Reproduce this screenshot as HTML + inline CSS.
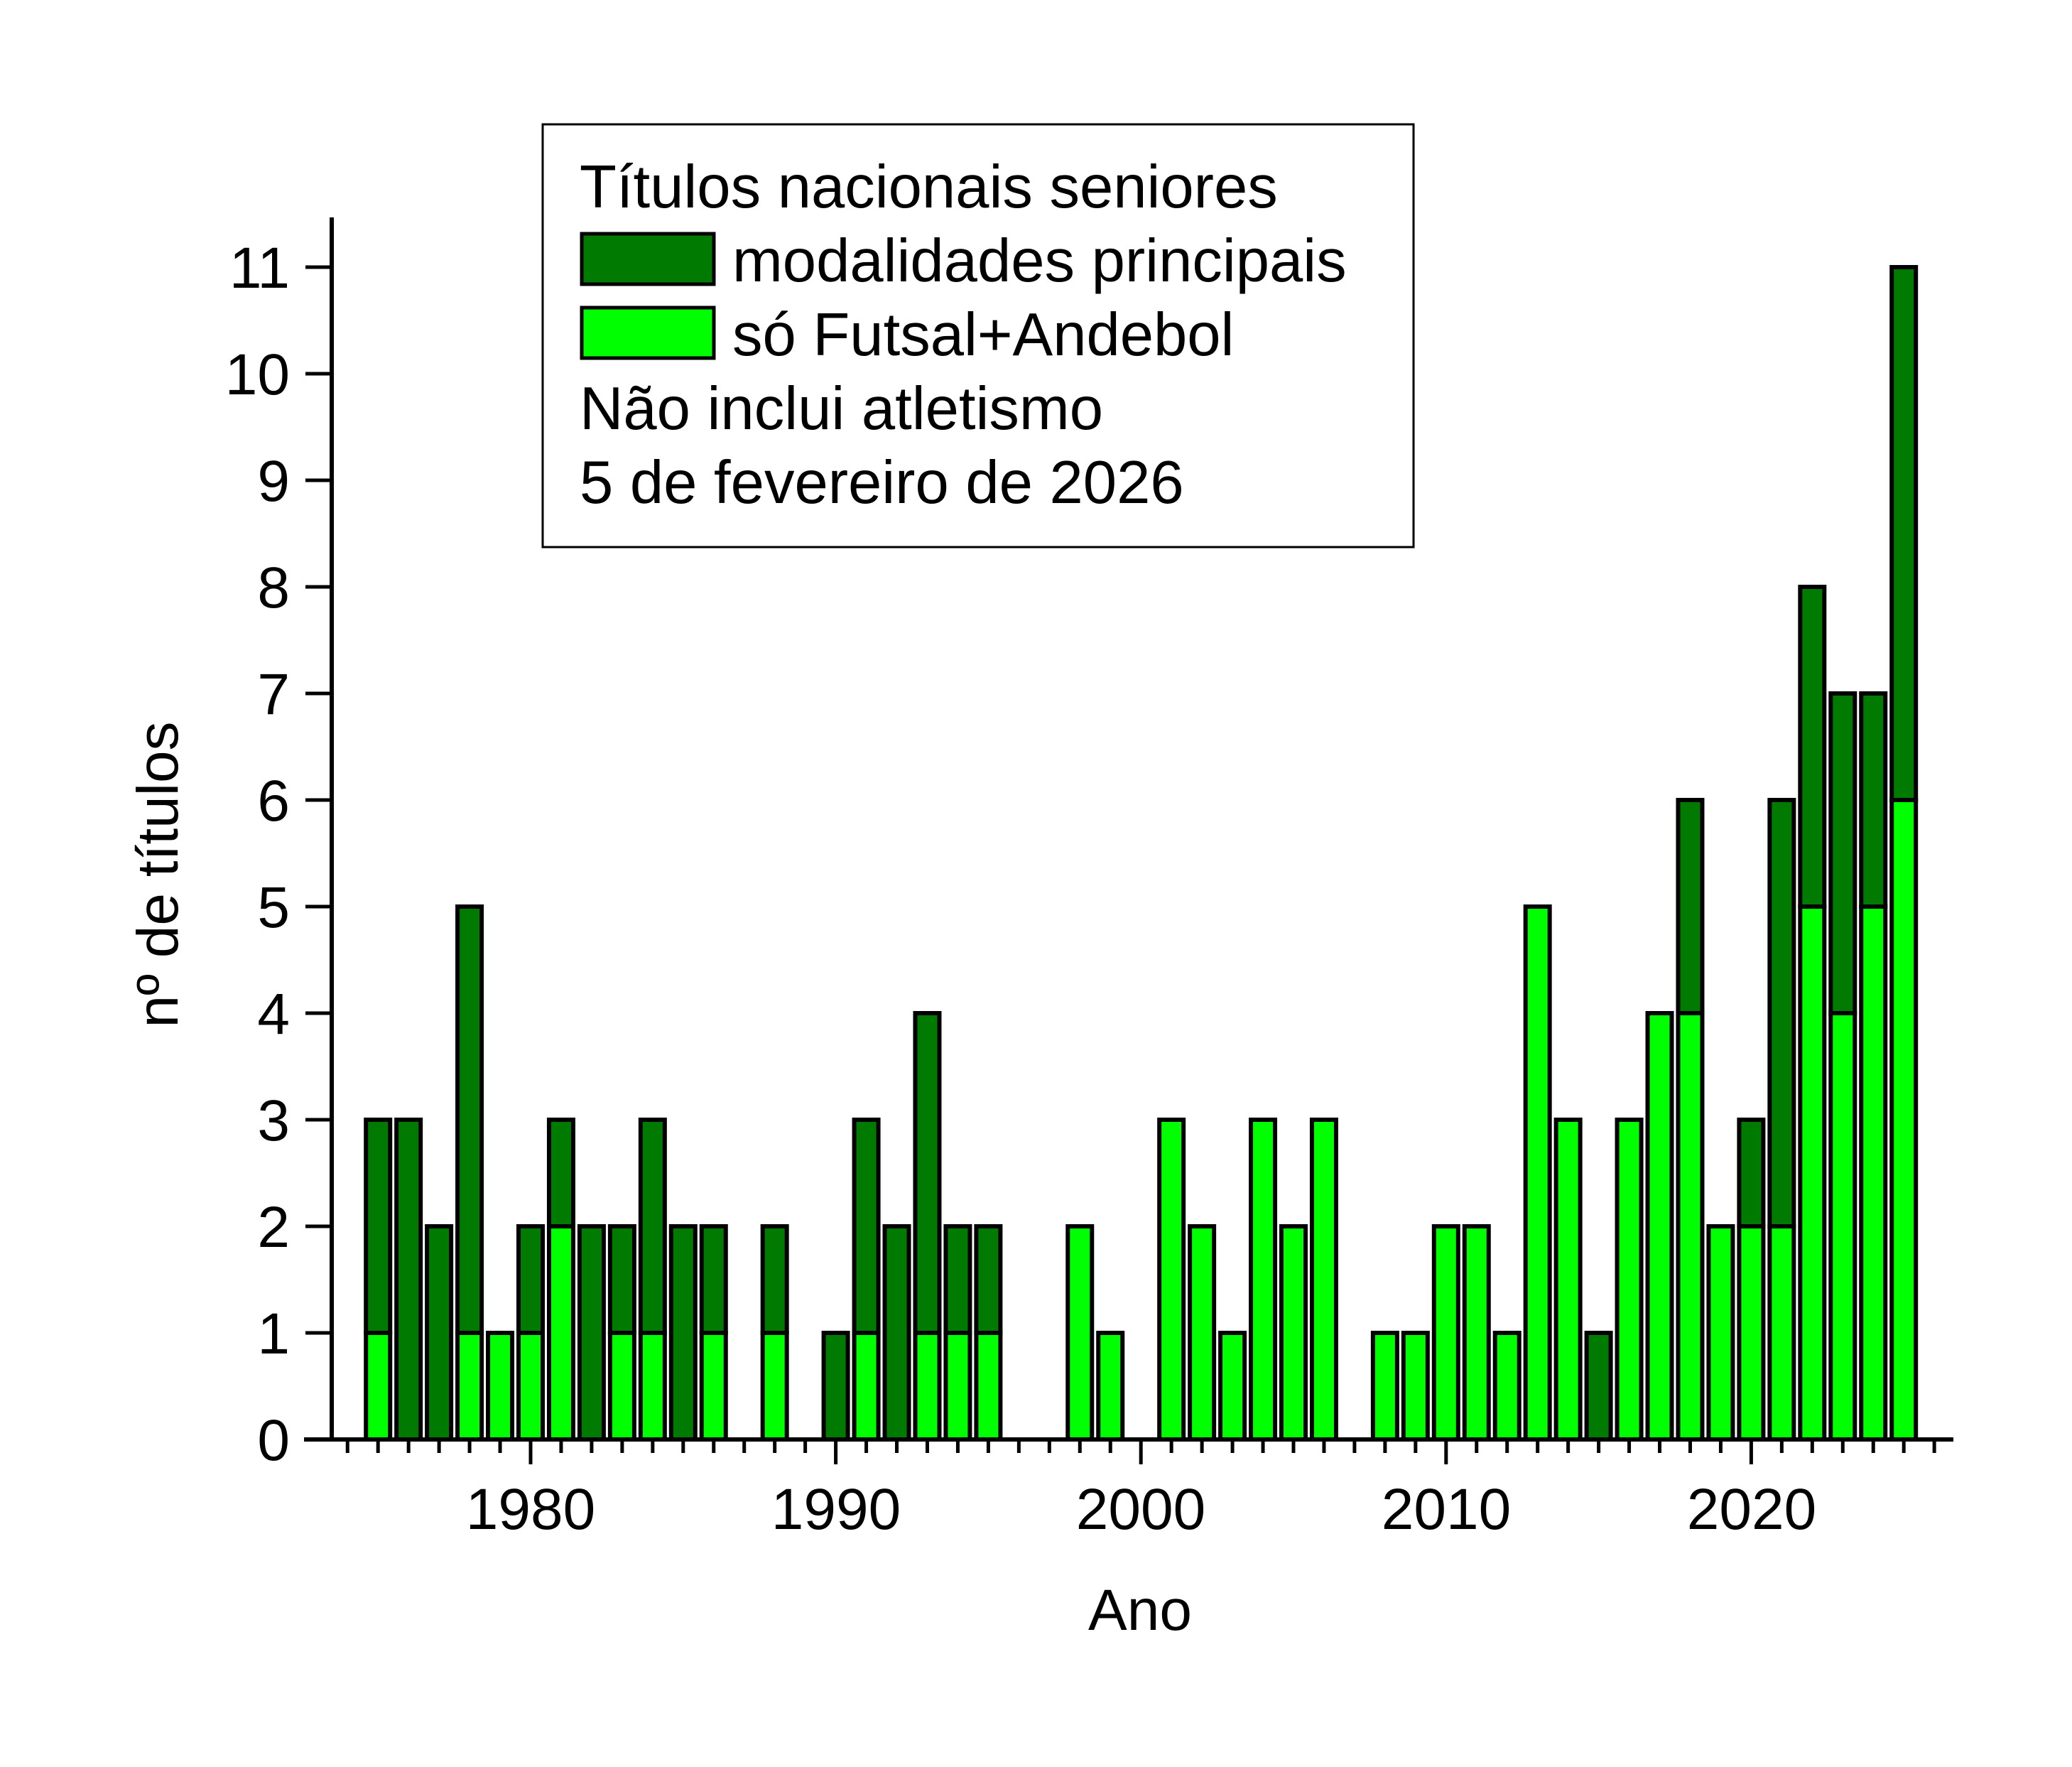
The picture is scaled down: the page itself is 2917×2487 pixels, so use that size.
<!DOCTYPE html>
<html><head><meta charset="utf-8"><style>
html,body{margin:0;padding:0;background:#fff;}
svg{display:block;font-family:"Liberation Sans",Arial,sans-serif;}
</style></head><body>
<svg id="s" width="2917" height="2487" viewBox="0 0 2917 2487" xmlns="http://www.w3.org/2000/svg">
<rect width="2917" height="2487" fill="#fff"/>
<g id="bars" stroke="#000" stroke-width="6"></g>
<g id="ticks" stroke="#000" stroke-width="5"></g>
<line x1="467" y1="306" x2="467" y2="2028" stroke="#000" stroke-width="6"/>
<line x1="428" y1="2026" x2="2750" y2="2026" stroke="#000" stroke-width="6"/>
<g font-size="82" text-anchor="end" fill="#000">
<text x="408" y="2055">0</text>
<text x="408" y="1905">1</text>
<text x="408" y="1755">2</text>
<text x="408" y="1605">3</text>
<text x="408" y="1455">4</text>
<text x="408" y="1305">5</text>
<text x="408" y="1155">6</text>
<text x="408" y="1005">7</text>
<text x="408" y="855">8</text>
<text x="408" y="705">9</text>
<text x="408" y="555">10</text>
<text x="408" y="405">11</text>
</g>
<g font-size="82" text-anchor="middle" fill="#000">
<text x="747" y="2152">1980</text>
<text x="1177" y="2152">1990</text>
<text x="1606" y="2152">2000</text>
<text x="2036" y="2152">2010</text>
<text x="2466" y="2152">2020</text>
<text x="1605" y="2294">Ano</text>
<text transform="translate(250,1231) rotate(-90)">nº de títulos</text>
</g>
<rect x="764" y="175" width="1226" height="595" fill="#fff" stroke="#000" stroke-width="3"/>
<rect x="819" y="329" width="186" height="71" fill="#007a00" stroke="#000" stroke-width="5"/>
<rect x="819" y="433" width="186" height="71" fill="#00ff00" stroke="#000" stroke-width="5"/>
<g font-size="85" fill="#000">
<text x="816" y="292">Títulos nacionais seniores</text>
<text x="1031" y="396">modalidades principais</text>
<text x="1031" y="500">só Futsal+Andebol</text>
<text x="816" y="604">Não inclui atletismo</text>
<text x="816" y="708">5 de fevereiro de 2026</text>
</g>
</svg>
<script>
var d=[[1975,3,1],[1976,3,0],[1977,2,0],[1978,5,1],[1979,1,1],[1980,2,1],[1981,3,2],[1982,2,0],[1983,2,1],[1984,3,1],[1985,2,0],[1986,2,1],[1988,2,1],[1990,1,0],[1991,3,1],[1992,2,0],[1993,4,1],[1994,2,1],[1995,2,1],[1998,2,2],[1999,1,1],[2001,3,3],[2002,2,2],[2003,1,1],[2004,3,3],[2005,2,2],[2006,3,3],[2008,1,1],[2009,1,1],[2010,2,2],[2011,2,2],[2012,1,1],[2013,5,5],[2014,3,3],[2015,1,0],[2016,3,3],[2017,4,4],[2018,6,4],[2019,2,2],[2020,3,2],[2021,6,2],[2022,8,5],[2023,7,4],[2024,7,5],[2025,11,6]];
var ns="http://www.w3.org/2000/svg",b=document.getElementById("bars"),t=document.getElementById("ticks");
function X(y){return 747+(y-1980)*42.96;}
function Y(v){return 2026-v*150;}
function r(x,y,w,h,f){var e=document.createElementNS(ns,"rect");e.setAttribute("x",x);e.setAttribute("y",y);e.setAttribute("width",w);e.setAttribute("height",h);e.setAttribute("fill",f);b.appendChild(e);}
d.forEach(function(a){var x=X(a[0])-17;
if(a[1]>a[2])r(x,Y(a[1]),34,Y(a[2])-Y(a[1]),"#007a00");
if(a[2]>0)r(x,Y(a[2]),34,Y(0)-Y(a[2]),"#00ff00");});
function l(x1,y1,x2,y2){var e=document.createElementNS(ns,"line");e.setAttribute("x1",x1);e.setAttribute("y1",y1);e.setAttribute("x2",x2);e.setAttribute("y2",y2);t.appendChild(e);}
for(var y=1974;y<=2026;y++){l(X(y),2026,X(y),y%10==0?2061:2045);}
for(var v=0;v<=11;v++){l(430,Y(v),467,Y(v));}
</script>
</body></html>
